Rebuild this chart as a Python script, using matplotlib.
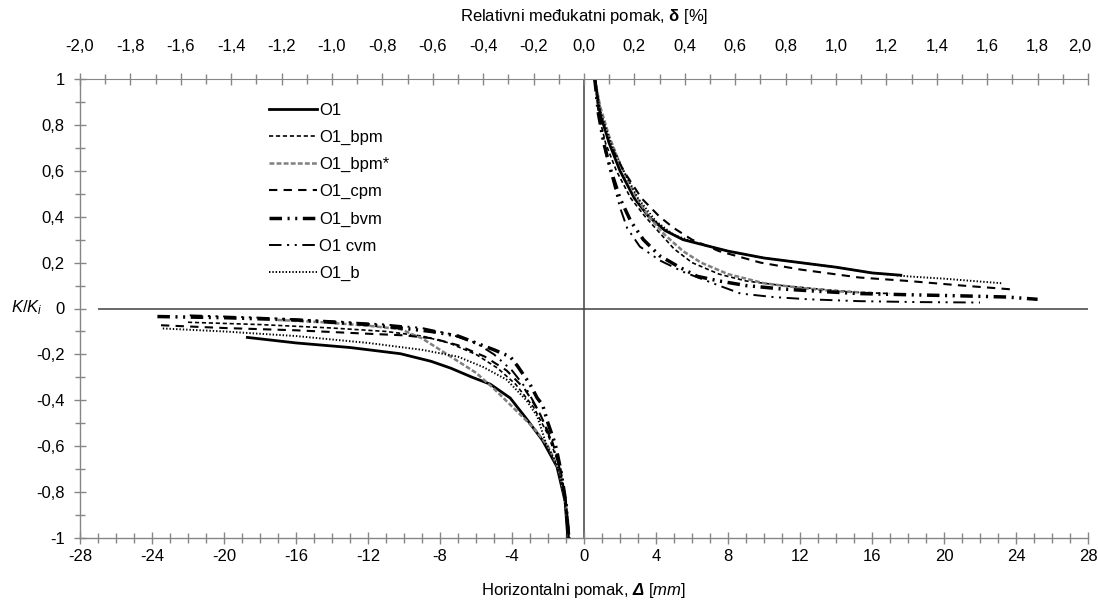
import matplotlib
matplotlib.use("Agg")
import matplotlib.pyplot as plt
from matplotlib import font_manager
from matplotlib.ticker import MultipleLocator, FuncFormatter
from matplotlib.transforms import ScaledTranslation

# ---------------- data ----------------
# positive branch (x in mm, y = K/Ki)
O1_pos_x = [0.6, 0.9, 1.4, 2.0, 2.8, 3.6, 4.5, 5.5, 6.5, 8, 10, 12, 14, 16, 17.6]
O1_pos_y = [1.0, 0.85, 0.72, 0.6, 0.48, 0.4, 0.34, 0.3, 0.28, 0.25, 0.22, 0.2, 0.18, 0.155, 0.145]
O1_neg_x = [-18.7, -16, -13, -10.2, -8.5, -7.4, -6.2, -5.2, -4.1, -3.2, -2.3, -1.5, -1.05, -0.9]
O1_neg_y = [-0.126, -0.15, -0.17, -0.197, -0.23, -0.26, -0.3, -0.33, -0.39, -0.48, -0.575, -0.69, -0.84, -1.0]

bpm_pos_x = [0.6, 0.8, 1.2, 1.8, 2.6, 3.4, 4.2, 5.0, 6.0, 7.5, 9, 11, 13, 15.3, 17]
bpm_pos_y = [1.0, 0.85, 0.72, 0.6, 0.48, 0.4, 0.33, 0.26, 0.2, 0.15, 0.12, 0.1, 0.085, 0.07, 0.065]
bpm_neg_x = [-22, -18, -14, -11, -9, -7.5, -6, -4.8, -3.8, -2.8, -2.0, -1.4, -1.0, -0.8]
bpm_neg_y = [-0.06, -0.07, -0.085, -0.1, -0.12, -0.15, -0.2, -0.26, -0.33, -0.43, -0.55, -0.68, -0.84, -1.0]

bpms_pos_x = [0.6, 0.9, 1.4, 2.0, 2.8, 3.6, 4.5, 5.5, 6.5, 8, 10, 12, 14, 16]
bpms_pos_y = [1.0, 0.88, 0.75, 0.63, 0.5, 0.4, 0.32, 0.25, 0.2, 0.15, 0.11, 0.09, 0.075, 0.068]
bpms_neg_x = [-17, -14.5, -12, -10.2, -9, -8, -7, -6, -5, -3.7, -2.8, -2.0, -1.4, -1.0, -0.85]
bpms_neg_y = [-0.05, -0.06, -0.075, -0.09, -0.13, -0.18, -0.23, -0.28, -0.35, -0.45, -0.52, -0.6, -0.7, -0.85, -1.0]

cpm_pos_x = [0.6, 0.9, 1.4, 2.2, 3.2, 4.2, 5.0, 6.0, 7.5, 9.8, 12, 15.3, 18, 21, 23.8]
cpm_pos_y = [1.0, 0.85, 0.72, 0.6, 0.48, 0.4, 0.35, 0.3, 0.25, 0.2, 0.17, 0.135, 0.12, 0.1, 0.083]
cpm_neg_x = [-23.5, -20, -16, -12, -10, -8.4, -7, -5.5, -4.3, -3.3, -2.5, -1.8, -1.3, -1.0, -0.8]
cpm_neg_y = [-0.073, -0.085, -0.095, -0.11, -0.117, -0.13, -0.16, -0.21, -0.27, -0.35, -0.45, -0.57, -0.7, -0.85, -1.0]

bvm_pos_x = [0.6, 0.8, 1.1, 1.5, 2.0, 2.6, 3.3, 4.2, 5.3, 6.3, 7.5, 9, 11, 13, 15.3, 18, 21, 23.5, 25.2]
bvm_pos_y = [1.0, 0.85, 0.72, 0.6, 0.48, 0.38, 0.3, 0.23, 0.18, 0.14, 0.12, 0.1, 0.085, 0.075, 0.065, 0.06, 0.055, 0.05, 0.04]
bvm_neg_x = [-23.7, -20, -16, -12, -10.2, -8.5, -7, -5, -4.1, -3.7, -3.0, -2.6, -2.3, -2.0, -1.6, -1.3, -1.0, -0.85]
bvm_neg_y = [-0.035, -0.04, -0.05, -0.07, -0.085, -0.1, -0.12, -0.18, -0.21, -0.25, -0.33, -0.39, -0.42, -0.5, -0.59, -0.7, -0.85, -1.0]

cvm_pos_x = [0.6, 0.9, 1.2, 1.7, 2.0, 2.4, 3.1, 4.2, 5.5, 7.5, 8.7, 10.5, 12.5, 15.3, 18.5, 22]
cvm_pos_y = [1.0, 0.82, 0.68, 0.53, 0.44, 0.35, 0.27, 0.21, 0.16, 0.1, 0.065, 0.05, 0.04, 0.032, 0.028, 0.026]
cvm_neg_x = [-21.9, -18, -14, -11, -9, -7.5, -6, -5, -4, -3.2, -2.5, -1.9, -1.4, -1.0, -0.85]
cvm_neg_y = [-0.03, -0.04, -0.055, -0.07, -0.085, -0.11, -0.15, -0.2, -0.27, -0.35, -0.45, -0.56, -0.68, -0.84, -1.0]

b_pos_x = [0.6, 0.9, 1.5, 2.2, 3.0, 4.0, 5.0, 6.5, 8, 10, 12, 14, 16, 18, 20, 23.2]
b_pos_y = [1.0, 0.86, 0.72, 0.6, 0.48, 0.38, 0.32, 0.28, 0.25, 0.22, 0.2, 0.18, 0.155, 0.14, 0.13, 0.11]
b_neg_x = [-23.4, -20, -16, -12, -9, -7, -5.6, -4.3, -3.2, -2.6, -2.1, -1.5, -1.1, -0.85]
b_neg_y = [-0.087, -0.1, -0.12, -0.15, -0.18, -0.21, -0.255, -0.31, -0.4, -0.47, -0.59, -0.68, -0.82, -1.0]

legend_labels = ["O1", "O1_bpm", "O1_bpm*", "O1_cpm", "O1_bvm", "O1 cvm", "O1_b"]
x_ticks_mm = list(range(-28, 29, 4))
x_ticks_pct = [-2.0, -1.8, -1.6, -1.4, -1.2, -1.0, -0.8, -0.6, -0.4, -0.2, 0.0,
               0.2, 0.4, 0.6, 0.8, 1.0, 1.2, 1.4, 1.6, 1.8, 2.0]
y_ticks = [-1, -0.8, -0.6, -0.4, -0.2, 0, 0.2, 0.4, 0.6, 0.8, 1]

# ---------------- style ----------------
names = {f.name for f in font_manager.fontManager.ttflist}
FONT = "Liberation Sans Narrow" if "Liberation Sans Narrow" in names else "Liberation Sans"
plt.rcParams['font.family'] = [FONT, 'DejaVu Sans']
plt.rcParams['axes.unicode_minus'] = False
plt.rcParams['lines.scale_dashes'] = False
plt.rcParams['mathtext.fontset'] = 'custom'
plt.rcParams['mathtext.rm'] = FONT
plt.rcParams['mathtext.it'] = FONT + ':italic'
plt.rcParams['mathtext.bf'] = FONT + ':italic:bold'
plt.rcParams['mathtext.sf'] = FONT + ':bold'

FS = 12
GRAY = '#868686'

styles = [
    dict(color='black', lw=2.0, ls='-'),
    dict(color='black', lw=1.2, ls=(0, (3, 2))),
    dict(color='#7f7f7f', lw=1.8, ls=(0, (3.5, 1.6))),
    dict(color='black', lw=1.5, ls=(0, (6, 4.5))),
    dict(color='black', lw=2.5, ls=(0, (9, 4, 1.5, 4, 1.5, 4))),
    dict(color='black', lw=1.4, ls=(0, (9, 4, 1.5, 4, 1.5, 4))),
    dict(color='black', lw=1.4, ls=(0, (1, 1.4))),
]

pos = [(O1_pos_x, O1_pos_y), (bpm_pos_x, bpm_pos_y), (bpms_pos_x, bpms_pos_y),
       (cpm_pos_x, cpm_pos_y), (bvm_pos_x, bvm_pos_y), (cvm_pos_x, cvm_pos_y),
       (b_pos_x, b_pos_y)]
neg = [(O1_neg_x, O1_neg_y), (bpm_neg_x, bpm_neg_y), (bpms_neg_x, bpms_neg_y),
       (cpm_neg_x, cpm_neg_y), (bvm_neg_x, bvm_neg_y), (cvm_neg_x, cvm_neg_y),
       (b_neg_x, b_neg_y)]

W, H = 1098, 603
fig = plt.figure(figsize=(W / 100, H / 100), dpi=100)
L, R, T, B = 80, 1088, 79, 538
ax = fig.add_axes([L / W, 1 - B / H, (R - L) / W, (B - T) / H])
ax.set_xlim(-28, 28)
ax.set_ylim(-1, 1)

# zero lines
ax.hlines(0, -27, 28, color='#404040', lw=1.1, zorder=1)
ax.vlines(0, -1, 1, color='#404040', lw=1.1, zorder=1)

handles = []
for (px, py), (nx, ny), st, lab in zip(pos, neg, styles, legend_labels):
    h, = ax.plot(px, py, label=lab, zorder=3, **st)
    ax.plot(nx, ny, zorder=3, **st)
    handles.append(h)

# spines
for s in ['right', 'top']:
    ax.spines[s].set_visible(False)
for s in ['left', 'bottom']:
    ax.spines[s].set_color(GRAY)
    ax.spines[s].set_linewidth(1.0)

ax.set_xticks(x_ticks_mm)
ax.xaxis.set_minor_locator(MultipleLocator(1))
ax.set_yticks(y_ticks)
ax.yaxis.set_minor_locator(MultipleLocator(0.1))

def yfmt(v, p):
    if abs(v - round(v)) < 1e-9:
        return '%d' % round(v)
    return ('%.1f' % v).replace('.', ',')

ax.yaxis.set_major_formatter(FuncFormatter(yfmt))
ax.xaxis.set_major_formatter(FuncFormatter(lambda v, p: '%d' % round(v)))
ax.tick_params(axis='both', which='major', direction='inout', length=8, width=1,
               color=GRAY, labelsize=FS, labelcolor='black')
ax.tick_params(axis='both', which='minor', direction='inout', length=6.5, width=1,
               color=GRAY)
ax.tick_params(axis='x', which='major', pad=4)
ax.tick_params(axis='y', which='major', pad=7)

ax2 = ax.twiny()
ax2.set_xlim(-2, 2)
for s in ['right', 'left', 'bottom']:
    ax2.spines[s].set_visible(False)
ax2.spines['top'].set_color(GRAY)
ax2.set_xticks(x_ticks_pct)
ax2.xaxis.set_minor_locator(MultipleLocator(0.1))
ax2.xaxis.set_major_formatter(FuncFormatter(lambda v, p: ('%.1f' % v).replace('.', ',')))
ax2.tick_params(axis='x', which='major', direction='inout', length=8, width=1,
                color=GRAY, labelsize=FS, pad=14)
ax2.tick_params(axis='x', which='minor', direction='inout', length=6.5, width=1,
                color=GRAY)

# keep the last top label inside the figure
fig.canvas.draw()
lastlab = ax2.get_xticklabels()[-1]
lastlab.set_transform(lastlab.get_transform() + ScaledTranslation(-6 / 72, 0, fig.dpi_scale_trans))

# axis titles
fig.text(584 / W, 1 - 17 / H, r'Relativni međukatni pomak, $\mathsf{δ}$ [%]',
         ha='center', va='center', fontsize=FS)
fig.text(584 / W, 1 - 590 / H, r'Horizontalni pomak, $\mathbf{Δ}$ [$\mathit{mm}$]',
         ha='center', va='center', fontsize=FS)
fig.text(43 / W, 1 - 308 / H, r'$\mathit{K/K_i}$', ha='right', va='center', fontsize=FS)

leg = fig.legend(handles=handles, loc='upper left',
                 bbox_to_anchor=(269 / W, 1 - 103 / H), frameon=False,
                 fontsize=FS, handlelength=2.9, handletextpad=0.1,
                 labelspacing=0.72, borderpad=0, borderaxespad=0)

fig.savefig('out.png', dpi=100)
